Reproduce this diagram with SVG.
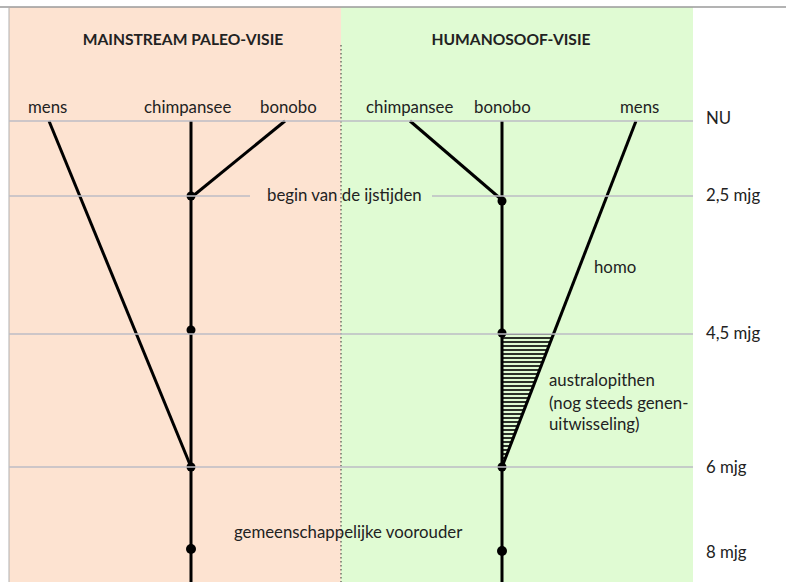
<svg xmlns="http://www.w3.org/2000/svg" width="786" height="582" viewBox="0 0 786 582">
<defs>
<style>
text{font-family:"Lato","Open Sans",sans-serif;fill:#222;font-size:16.8px}
.t{font-weight:bold;font-size:15.6px}
.m{text-anchor:middle}
.b{stroke:#000;stroke-width:3;fill:none}
.g{stroke:#bdbdc4;stroke-width:1.6}
</style>
<pattern id="hatch" width="8" height="4" patternUnits="userSpaceOnUse">
<rect x="0" y="1.2" width="8" height="1.6" fill="#000"/>
</pattern>
</defs>
<rect x="0" y="0" width="786" height="582" fill="#fff"/>
<rect x="9" y="7" width="332" height="575" fill="#fde3d1"/>
<rect x="341" y="7" width="352" height="575" fill="#e0fbd3"/>
<line x1="0" y1="7" x2="786" y2="7" stroke="#9a9a9a" stroke-width="1.5"/>
<line x1="9" y1="7" x2="9" y2="582" stroke="#b0b0b0" stroke-width="1"/>
<line x1="341" y1="45" x2="341" y2="582" stroke="#333" stroke-width="1" stroke-dasharray="1.5,2.5"/>

<g id="connectors">
<polygon points="502,334 553,334 502,467" fill="url(#hatch)"/>
<line class="b" x1="191" y1="121" x2="191" y2="582"/>
<line class="b" x1="49" y1="121" x2="191" y2="467"/>
<line class="b" x1="285" y1="121" x2="193" y2="196"/>
<line class="b" x1="502" y1="121" x2="502" y2="582"/>
<line class="b" x1="410" y1="121" x2="502" y2="200"/>
<line class="b" x1="636" y1="121" x2="502" y2="467"/>
</g>

<g id="nodes-left">
<circle cx="191" cy="196" r="4.5"/>
<circle cx="191" cy="330" r="4.5"/>
<circle cx="191" cy="467" r="4.5"/>
<circle cx="191" cy="549" r="5"/>
</g>
<g id="nodes-right">
<circle cx="502" cy="201" r="4.5"/>
<circle cx="502" cy="333" r="4.5"/>
<circle cx="502" cy="467" r="4.5"/>
<circle cx="502" cy="551" r="5"/>
</g>

<g id="timelines">
<line class="g" x1="9" y1="121" x2="693" y2="121"/>
<line class="g" x1="9" y1="196" x2="250" y2="196"/>
<line class="g" x1="432" y1="196" x2="693" y2="196"/>
<line class="g" x1="9" y1="334" x2="693" y2="334"/>
<line class="g" x1="9" y1="467" x2="693" y2="467"/>
</g>

<g id="titles">
<text class="t m" x="183" y="45">MAINSTREAM PALEO-VISIE</text>
<text class="t m" x="511" y="45">HUMANOSOOF-VISIE</text>
</g>
<g id="labels">
<text x="28" y="113">mens</text>
<text x="144" y="113">chimpansee</text>
<text x="260" y="113">bonobo</text>
<text x="366" y="113">chimpansee</text>
<text x="474" y="113">bonobo</text>
<text x="620" y="113">mens</text>
<text x="267" y="201">begin van de ijstijden</text>
<text x="594" y="273">homo</text>
<text x="549" y="386">australopithen</text>
<text x="549" y="409">(nog steeds genen-</text>
<text x="549" y="430">uitwisseling)</text>
<text x="234" y="538">gemeenschappelijke voorouder</text>
</g>
<g id="scale">
<text x="706" y="124">NU</text>
<text x="706" y="201">2,5 mjg</text>
<text x="706" y="339">4,5 mjg</text>
<text x="706" y="473">6 mjg</text>
<text x="706" y="558">8 mjg</text>
</g>
</svg>
